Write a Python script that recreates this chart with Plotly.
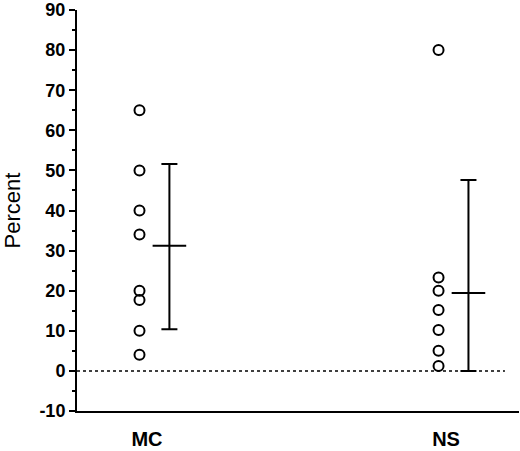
import plotly.graph_objects as go

# groups and individual values (percent)
groups = ["MC", "NS"]
mc_values = [65, 50, 40, 34, 20, 17.7, 10, 4]
ns_values = [80, 23.3, 20, 15.2, 10.2, 5, 1.2]

# summary bars: mean with upper / lower ends
means = [31.2, 19.4]
uppers = [51.6, 47.6]
lowers = [10.4, 0]

y_ticks = [-10, 0, 10, 20, 30, 40, 50, 60, 70, 80, 90]

PT_OFF = -0.025
BAR_OFF = 0.075
group_x = [1, 2]

fig = go.Figure()

circle = dict(symbol="circle-open", size=10, color="black", line=dict(width=2))
fig.add_trace(go.Scatter(
    x=[group_x[0] + PT_OFF] * len(mc_values), y=mc_values,
    mode="markers", marker=circle, showlegend=False))
fig.add_trace(go.Scatter(
    x=[group_x[1] + PT_OFF] * len(ns_values), y=ns_values,
    mode="markers", marker=circle, showlegend=False))

bar_x = [g + BAR_OFF for g in group_x]
fig.add_trace(go.Scatter(
    x=bar_x, y=means,
    mode="markers",
    marker=dict(symbol="line-ew", size=24, color="black", line=dict(width=2, color="black")),
    error_y=dict(type="data", symmetric=False,
                 array=[u - m for u, m in zip(uppers, means)],
                 arrayminus=[m - l for m, l in zip(means, lowers)],
                 color="black", thickness=2, width=8),
    showlegend=False))

# dotted zero line
fig.add_shape(type="line", xref="x", yref="y", x0=0.766, x1=2.197, y0=0, y1=0,
              line=dict(color="black", width=1.5, dash="dot"))

fig.update_layout(
    width=520, height=451,
    margin=dict(l=77, r=1, t=10, b=40),
    paper_bgcolor="white", plot_bgcolor="white",
    font=dict(family="Liberation Sans, Arial, sans-serif", color="black"),
    xaxis=dict(
        range=[0.766, 2.244], automargin=False,
        tickvals=group_x, ticktext=["<b>%s</b>" % g for g in groups],
        tickfont=dict(size=20), ticklen=0, ticklabelstandoff=9,
        showgrid=False, zeroline=False,
        showline=True, linecolor="black", linewidth=2,
        ticks="",
    ),
    yaxis=dict(
        range=[-10, 90], automargin=False, ticklabeloverflow="allow",
        tickvals=y_ticks, ticktext=["<b>%d</b>" % v for v in y_ticks],
        tickfont=dict(size=18),
        showgrid=False, zeroline=False,
        showline=True, linecolor="black", linewidth=2,
        ticks="outside", ticklen=6, tickwidth=2, tickcolor="black",
        minor=dict(ticks="outside", ticklen=3, tickwidth=1.5, tickcolor="black",
                   tickvals=[-5, 5, 15, 25, 35, 45, 55, 65, 75, 85]),
        title=dict(text="Percent", font=dict(size=22), standoff=16),
    ),
)

fig.write_html("out.html", config={"displayModeBar": False},
               post_script="document.body.style.margin='0';")
